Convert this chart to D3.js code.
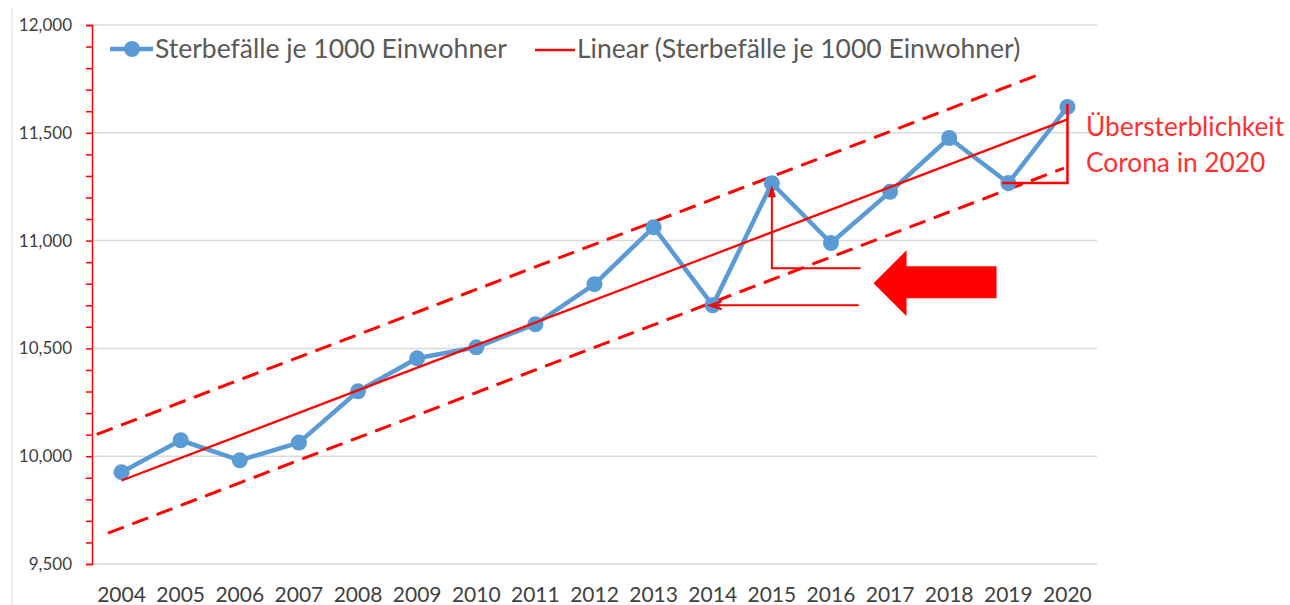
<!DOCTYPE html>
<html>
<head>
<meta charset="utf-8">
<script src="https://cdn.jsdelivr.net/npm/d3@7"></script>
<style>
  body { margin: 0; background: #fff; }
  svg { display: block; font-family: Lato, "Open Sans", sans-serif; }
</style>
</head>
<body>
<div id="chart"></div>
<script>
// Sterbefälle je 1000 Einwohner (Deutschland)
const years = ["2004","2005","2006","2007","2008","2009","2010","2011","2012","2013","2014","2015","2016","2017","2018","2019","2020"];
const rates = [9926, 10074, 9981, 10063, 10301, 10454, 10505, 10612, 10798, 11062, 10700, 11266, 10989, 11226, 11476, 11267, 11620];
const yTicks = [9500, 10000, 10500, 11000, 11500, 12000];
const bandOffsets = [258, -220];          // gestrichelte Korridorlinien um den Trend
const bandSpans = [[2003.58, 2019.55], [2003.77, 2019.94]];
const seriesName = "Sterbefälle je 1000 Einwohner";
const trendName = "Linear (Sterbefälle je 1000 Einwohner)";
const noteLines = ["Übersterblichkeit", "Corona in 2020"];

const W = 1290, H = 605;
const mLeft = 92, mRight = 1097, mTop = 25, mBottom = 564;
const blue = "#5b9bd5", red = "#ff0000", grey = "#595959";

const svg = d3.select("#chart").append("svg")
    .attr("width", W)
    .attr("height", H);

const x = d3.scalePoint().domain(years).range([mLeft, mRight]).padding(0.5);
const y = d3.scaleLinear().domain([9500, 12000]).range([mBottom, mTop]);
// Jahr als Zahl -> Pixel (fuer Trend und Annotationen)
const xl = t => x(years[0]) + (t - +years[0]) * x.step();

// lineare Regression wie Excel-Trendlinie
const ts = years.map(d => +d);
const mt = d3.mean(ts), mv = d3.mean(rates);
const slope = d3.sum(ts, (t, i) => (t - mt) * (rates[i] - mv)) / d3.sum(ts, t => (t - mt) * (t - mt));
const trend = t => mv + slope * (t - mt);

// dezente Randlinie links
svg.append("line")
    .attr("x1", 12).attr("x2", 12).attr("y1", 8).attr("y2", H)
    .attr("stroke", "#ececec").attr("stroke-width", 2);

// Gitter
svg.append("g")
    .selectAll("line")
    .data(yTicks)
    .join("line")
    .attr("x1", mLeft).attr("x2", mRight)
    .attr("y1", d => y(d)).attr("y2", d => y(d))
    .attr("stroke", "#d9d9d9").attr("stroke-width", 1.5);

// Y-Achse (rot, Nebenstriche alle 100)
const yAxis = svg.append("g")
    .attr("transform", `translate(${mLeft},0)`)
    .call(d3.axisLeft(y).tickValues(d3.range(9500, 12001, 100)).tickSize(6).tickFormat(""));
yAxis.select(".domain").attr("stroke", red).attr("stroke-width", 1.5);
yAxis.selectAll(".tick line").attr("stroke", red).attr("stroke-width", 1.5);

svg.append("g")
    .selectAll("text")
    .data(yTicks)
    .join("text")
    .attr("x", 72)
    .attr("y", d => y(d) + 6)
    .attr("text-anchor", "end")
    .attr("font-size", 17)
    .attr("fill", "#404040")
    .text(d => d3.format(",")(d));

// X-Beschriftung
svg.append("g")
    .selectAll("text")
    .data(years)
    .join("text")
    .attr("x", d => x(d))
    .attr("y", 602)
    .attr("text-anchor", "middle")
    .attr("font-size", 21)
    .attr("fill", "#404040")
    .text(d => d);

// Korridor (gestrichelt)
svg.append("g")
    .selectAll("line")
    .data(bandOffsets)
    .join("line")
    .attr("x1", (d, i) => xl(bandSpans[i][0]))
    .attr("x2", (d, i) => xl(bandSpans[i][1]))
    .attr("y1", (d, i) => y(trend(bandSpans[i][0]) + d))
    .attr("y2", (d, i) => y(trend(bandSpans[i][1]) + d))
    .attr("stroke", red).attr("stroke-width", 3)
    .attr("stroke-dasharray", "17,9");

// Datenreihe
svg.append("path")
    .datum(rates)
    .attr("fill", "none")
    .attr("stroke", blue)
    .attr("stroke-width", 4.5)
    .attr("stroke-linejoin", "round")
    .attr("d", d3.line().x((d, i) => x(years[i])).y(d => y(d)));

svg.append("g")
    .selectAll("circle")
    .data(rates)
    .join("circle")
    .attr("cx", (d, i) => x(years[i]))
    .attr("cy", d => y(d))
    .attr("r", 8)
    .attr("fill", blue);

// Trendlinie
const t0 = ts[0], t1 = ts[ts.length - 1];
svg.append("line")
    .attr("x1", xl(t0)).attr("y1", y(trend(t0)))
    .attr("x2", xl(t1)).attr("y2", y(trend(t1)))
    .attr("stroke", red).attr("stroke-width", 2.2);

// Annotationen
const ann = svg.append("g").attr("stroke", red).attr("stroke-width", 2).attr("fill", "none");
const v = yr => rates[years.indexOf(yr)];

// 2014 -> waagerechte Linie mit kleiner Spitze
ann.append("line")
    .attr("x1", x("2014")).attr("x2", xl(2016.47))
    .attr("y1", y(v("2014"))).attr("y2", y(v("2014")));
ann.append("path")
    .attr("d", `M${x("2014") + 9},${y(v("2014")) - 4}L${x("2014") - 3},${y(v("2014"))}L${x("2014") + 9},${y(v("2014")) + 4}`);

// 2015 Pfeil nach oben
const base15 = 10872;
ann.append("path")
    .attr("d", `M${xl(2016.5)},${y(base15)}H${x("2015")}V${y(v("2015")) + 8}`);
ann.append("path")
    .attr("fill", red).attr("stroke", "none")
    .attr("d", `M${x("2015") - 4},${y(v("2015")) + 14}L${x("2015")},${y(v("2015")) + 2}L${x("2015") + 4},${y(v("2015")) + 14}Z`);

// 2019/2020 Dreieck
ann.append("path")
    .attr("stroke-width", 2.5)
    .attr("d", `M${x("2019") - 6},${y(v("2019"))}H${x("2020")}V${y(v("2020")) - 3}`);

// Blockpfeil
const tipX = xl(2016.72), tipY = y(10802);
svg.append("path")
    .attr("fill", red)
    .attr("d", `M${tipX},${tipY}L${tipX + 33},${tipY - 33}V${tipY - 17}H${tipX + 123}V${tipY + 15}H${tipX + 33}V${tipY + 33}Z`);

svg.append("g")
    .selectAll("text")
    .data(noteLines)
    .join("text")
    .attr("x", 1086)
    .attr("y", (d, i) => 136 + i * 36)
    .attr("font-size", 26.3)
    .attr("fill", "#ff3030")
    .text(d => d);

// Legende
const leg = svg.append("g");
leg.append("line").attr("x1", 110).attr("x2", 153).attr("y1", 49).attr("y2", 49)
    .attr("stroke", blue).attr("stroke-width", 4.5);
leg.append("circle").attr("cx", 132).attr("cy", 49).attr("r", 8).attr("fill", blue);
leg.append("text").attr("x", 155).attr("y", 58).attr("font-size", 26.5).attr("fill", grey).text(seriesName);
leg.append("line").attr("x1", 535).attr("x2", 575).attr("y1", 50).attr("y2", 50)
    .attr("stroke", red).attr("stroke-width", 2.5);
leg.append("text").attr("x", 577).attr("y", 58).attr("font-size", 26.5).attr("fill", grey).text(trendName);
</script>
</body>
</html>
